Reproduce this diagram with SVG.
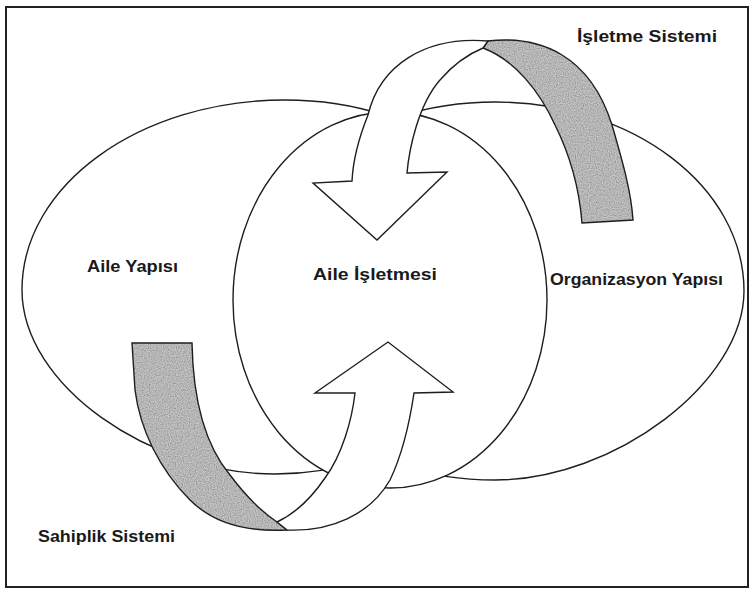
<svg xmlns="http://www.w3.org/2000/svg" width="755" height="592" viewBox="0 0 755 592">
<style>
.shape{fill:#fff;stroke:#1e1e1e;stroke-width:1.4}
.band{fill:#c8c8c8;stroke:none}
.edge{fill:none;stroke:#1e1e1e;stroke-width:1.4;stroke-linejoin:miter}
.lbl{font-family:"Liberation Sans","DejaVu Sans",Arial,sans-serif;font-weight:bold;font-size:16px;fill:#1a1a1a}
</style>
<defs>
<filter id="grain" x="0" y="0" width="100%" height="100%">
<feTurbulence type="fractalNoise" baseFrequency="0.85" numOctaves="1" seed="5" result="t"/>
<feColorMatrix in="t" type="matrix" values="0.7 0.7 0 0 0.1  0.7 0.7 0 0 0.1  0.7 0.7 0 0 0.1  0 0 0 0 1" result="g"/>
<feComposite in="g" in2="SourceGraphic" operator="in" result="gc"/>
<feBlend in="gc" in2="SourceGraphic" mode="multiply"/>
</filter>
</defs>
<rect width="755" height="592" fill="#fff"/>
<rect x="6" y="7" width="742" height="580" fill="none" stroke="#222" stroke-width="2"/>

<g id="aile-yapisi">
<path class="shape" d="M22 290 C22 185 140 100 285 100 C429 100 525 185 525 290 C525 390 400 474 275 474 C150 474 22 385 22 290 Z"/>
<text class="lbl" x="87" y="272" textLength="91" lengthAdjust="spacingAndGlyphs">Aile Yapısı</text>
</g>

<g id="organizasyon-yapisi">
<path class="shape" d="M246 291 C246 186.7 357.5 102 495 102 C632.5 102 744 186.7 744 291 C744 382 614.5 480 495 480 C357.5 480 246 395 246 291 Z"/>
<text class="lbl" x="550" y="285" textLength="173" lengthAdjust="spacingAndGlyphs">Organizasyon Yapısı</text>
</g>

<g id="aile-isletmesi">
<ellipse class="shape" cx="390" cy="300" rx="157" ry="188"/>
<text class="lbl" x="313" y="280" textLength="124" lengthAdjust="spacingAndGlyphs">Aile İşletmesi</text>
</g>

<g id="connectors">
<g id="isletme-sistemi-arrow">
<path class="band" filter="url(#grain)" d="M488 41 C540 35 590 55 612 125 C622 160 631 190 633 220 L582 223 C579 185 570 155 555 125 C540 92 515 60 483 48 Z"/>
<path class="edge" d="M488 41 C540 35 590 55 612 125 C622 160 631 190 633 220 L582 223 C579 185 570 155 555 125 C540 92 515 60 483 48 Z"/>
<path class="shape" d="M488 41 C425 36 380 65 368 115 C358 140 353 160 352 181 L313 183 L377 240 L447 172 L407 173 C409 150 418 105 440 80 C452 66 466 55 483 48 Z"/>
</g>
<g id="sahiplik-sistemi-arrow">
<path class="band" filter="url(#grain)" d="M132 343 L192 343 C193 400 205 445 230 475 C245 495 262 512 277 522 L287 530 C250 532 215 525 190 500 C160 470 140 430 135 390 Z"/>
<path class="edge" d="M132 343 L192 343 C193 400 205 445 230 475 C245 495 262 512 277 522 L287 530 C250 532 215 525 190 500 C160 470 140 430 135 390 Z"/>
<path class="shape" d="M287 530 C330 532 370 515 390 480 C402 455 410 420 414 393 L453 392 L388 342 L315 393 L355 393 C352 420 342 455 325 478 C310 500 292 515 277 522 Z"/>
</g>
</g>

<g id="isletme-sistemi">
<text class="lbl" x="577" y="42" textLength="140" lengthAdjust="spacingAndGlyphs">İşletme Sistemi</text>
</g>
<g id="sahiplik-sistemi">
<text class="lbl" x="38" y="542" textLength="137" lengthAdjust="spacingAndGlyphs">Sahiplik Sistemi</text>
</g>
</svg>
